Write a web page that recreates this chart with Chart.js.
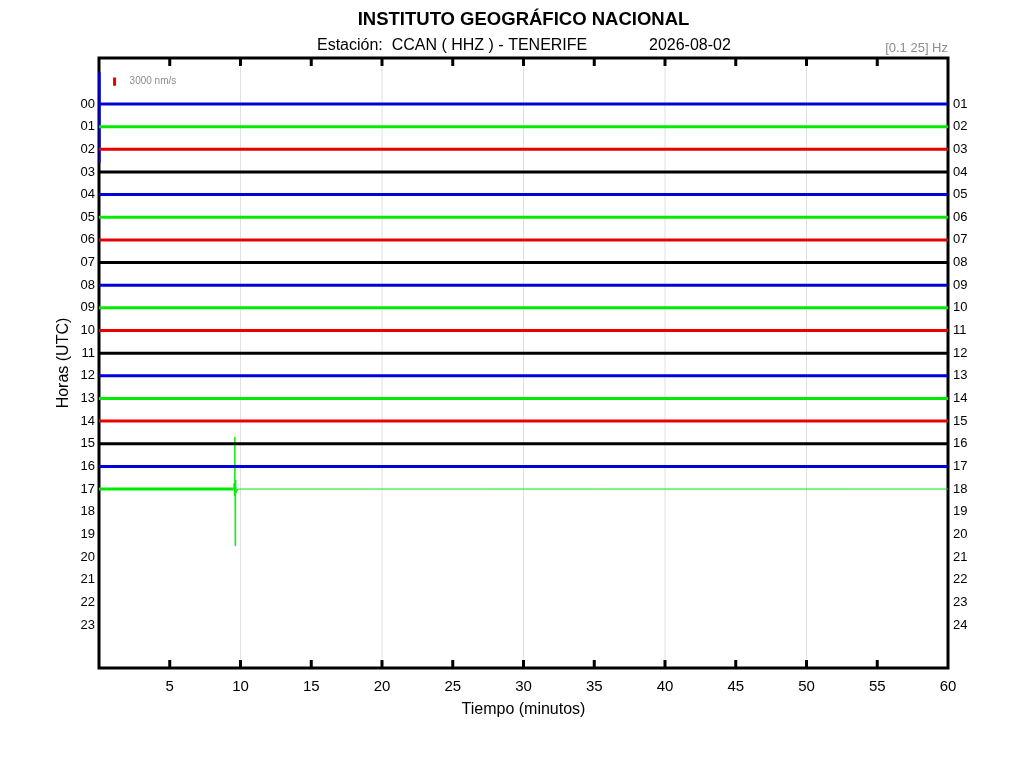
<!DOCTYPE html>
<html>
<head>
<meta charset="utf-8">
<title>Helicorder CCAN</title>
<script src="https://cdn.jsdelivr.net/npm/chart.js@4/dist/chart.umd.min.js"></script>
<style>
  html, body { margin: 0; padding: 0; background: #fff; }
  canvas { display: block; }
</style>
</head>
<body>
<canvas id="heli" width="1024" height="768"></canvas>
<script>
// hour rows, labels on the left (start hour) and right (end hour)
const hourLabels = ['00','01','02','03','04','05','06','07','08','09','10','11',
                    '12','13','14','15','16','17','18','19','20','21','22','23'];
const endLabels = ['01','02','03','04','05','06','07','08','09','10','11','12',
                   '13','14','15','16','17','18','19','20','21','22','23','24'];
const minuteTicks = [5, 10, 15, 20, 25, 30, 35, 40, 45, 50, 55, 60];
const traceColors = ['#0000d8', '#00ea00', '#e80000', '#000000'];

// hours 00-16 recorded for the full 60 minutes
const completeHours = 17;
// hour 17: noise until the event, then a flat line
const lastHour = 17;
const lastHourNoiseEnd = 9.5;
const eventMinutes = [9.50, 9.54, 9.57, 9.60, 9.62, 9.64, 9.66, 9.68, 9.72, 9.80, 60];
const eventOffsets = [17, 16.75, 17.3, 14.7, 19.5, 16.6, 17.4, 16.85, 17.15, 17, 17];
// transient at the start of hour 00
const startMinutes = [0, 0.03, 0.06];
const startOffsets = [-1.4, 2.6, 0];
// amplitude scale bar (3000 nm/s)
const scaleBarMinute = 1.1;
const scaleBarOffsets = [-1.17, -0.8];

const FONT = "'Liberation Sans', Arial, sans-serif";

const datasets = [];
for (let h = 0; h < completeHours; h++) {
  datasets.push({
    data: [{ x: 0, y: h }, { x: 60, y: h }],
    borderColor: traceColors[h % 4],
    borderWidth: 3
  });
}
datasets.push({
  data: [{ x: 0, y: lastHour }, { x: lastHourNoiseEnd, y: lastHour }],
  borderColor: traceColors[lastHour % 4],
  borderWidth: 3
});
datasets.push({
  data: eventMinutes.map((m, i) => ({ x: m, y: eventOffsets[i] })),
  borderColor: traceColors[lastHour % 4],
  borderWidth: 1
});
datasets.push({
  data: startMinutes.map((m, i) => ({ x: m, y: startOffsets[i] })),
  borderColor: traceColors[0],
  borderWidth: 2,
  clip: false
});
datasets.push({
  data: scaleBarOffsets.map(v => ({ x: scaleBarMinute, y: v })),
  borderColor: '#e80000',
  borderWidth: 3
});
datasets.forEach(d => { d.showLine = true; d.pointRadius = 0; d.borderCapStyle = 'butt'; });

// box, inward ticks and the texts around the plot
const heliDecor = {
  id: 'heliDecor',
  beforeDatasetsDraw(chart) {
    const { ctx, chartArea: a, scales } = chart;
    ctx.save();
    ctx.strokeStyle = '#000';
    ctx.lineWidth = 3;
    ctx.strokeRect(a.left, a.top, a.right - a.left, a.bottom - a.top);
    minuteTicks.forEach(m => {
      const x = scales.x.getPixelForValue(m);
      if (m === 60) return;
      ctx.strokeStyle = '#000';
      ctx.lineWidth = 3;
      ctx.beginPath();
      ctx.moveTo(x, a.bottom); ctx.lineTo(x, a.bottom - 8);
      ctx.moveTo(x, a.top); ctx.lineTo(x, a.top + 8);
      ctx.stroke();
      if (m % 10 === 0) {
        ctx.strokeStyle = '#e0e0e0';
        ctx.lineWidth = 1;
        ctx.beginPath();
        ctx.moveTo(x, a.bottom - 9); ctx.lineTo(x, a.top + 9);
        ctx.stroke();
      }
    });
    ctx.restore();
  },
  afterDraw(chart) {
    const { ctx, chartArea: a, scales } = chart;
    ctx.save();
    ctx.fillStyle = '#000';
    ctx.textBaseline = 'middle';
    ctx.textAlign = 'center';
    ctx.font = 'bold 18.5px ' + FONT;
    ctx.fillText('INSTITUTO GEOGRÁFICO NACIONAL', (a.left + a.right) / 2, 20);
    ctx.textAlign = 'left';
    ctx.font = '16px ' + FONT;
    ctx.fillText('Estación:  CCAN ( HHZ ) - TENERIFE', 317, 46);
    ctx.fillText('2026-08-02', 649, 46);
    ctx.fillStyle = '#8c8c8c';
    ctx.font = '13px ' + FONT;
    ctx.textAlign = 'right';
    ctx.fillText('[0.1 25] Hz', a.right, 48);
    ctx.textAlign = 'left';
    ctx.font = '10px ' + FONT;
    ctx.fillText('3000 nm/s', scales.x.getPixelForValue(scaleBarMinute) + 15, scales.y.getPixelForValue(-1));
    ctx.fillStyle = '#000';
    ctx.font = '16px ' + FONT;
    ctx.textAlign = 'center';
    ctx.fillText('Tiempo (minutos)', (a.left + a.right) / 2, 710);
    ctx.translate(64, (a.top + a.bottom) / 2);
    ctx.rotate(-Math.PI / 2);
    ctx.fillText('Horas (UTC)', 0, 0);
    ctx.restore();
  }
};

new Chart(document.getElementById('heli'), {
  type: 'scatter',
  data: { datasets },
  options: {
    responsive: false,
    devicePixelRatio: 1,
    animation: false,
    layout: { padding: { top: 58, left: 0, right: 0, bottom: 0 } },
    plugins: { legend: { display: false }, tooltip: { enabled: false } },
    scales: {
      x: {
        type: 'linear', min: 0, max: 60,
        afterBuildTicks: s => { s.ticks = minuteTicks.map(v => ({ value: v })); },
        afterFit: s => { s.height = 100; },
        grid: { display: false, drawTicks: false },
        border: { display: false },
        ticks: { color: '#000', font: { family: FONT, size: 15 }, padding: 10,
                 maxRotation: 0, callback: v => String(v) }
      },
      y: {
        type: 'linear', position: 'left', reverse: true, min: -2.03, max: 24.9,
        afterBuildTicks: s => { s.ticks = hourLabels.map((l, i) => ({ value: i })); },
        afterFit: s => { s.width = 99; },
        grid: { display: false, drawTicks: false },
        border: { display: false },
        ticks: { color: '#000', font: { family: FONT, size: 13 }, padding: 4,
                 callback: v => hourLabels[v] }
      },
      y2: {
        type: 'linear', position: 'right', reverse: true, min: -2.03, max: 24.9,
        afterBuildTicks: s => { s.ticks = endLabels.map((l, i) => ({ value: i })); },
        afterFit: s => { s.width = 76; },
        grid: { display: false, drawTicks: false },
        border: { display: false },
        ticks: { color: '#000', font: { family: FONT, size: 13 }, padding: 5,
                 callback: v => endLabels[v] }
      }
    }
  },
  plugins: [heliDecor]
});
</script>
</body>
</html>
